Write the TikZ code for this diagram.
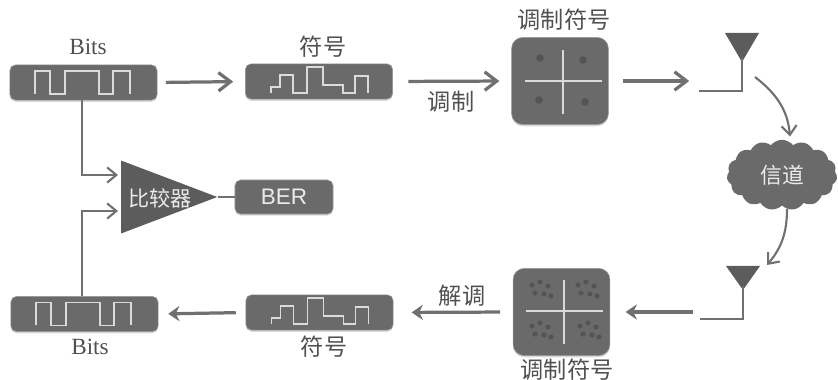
\documentclass[tikz,border=0pt]{standalone}
\usepackage{fontspec}
\setmainfont{Liberation Serif}
\newfontfamily\cjk{Noto Sans CJK SC}
\newfontfamily\lat{Liberation Sans}
\usepackage{xcolor}
\usetikzlibrary{arrows.meta,positioning,calc,shadows,shapes.geometric,shapes.symbols}
\definecolor{boxgray}{HTML}{6A6A6A}
\definecolor{trigray}{HTML}{5C5C5C}
\definecolor{lnkgray}{HTML}{707070}
\definecolor{txtgray}{HTML}{505050}
\definecolor{dotgray}{HTML}{545454}
\tikzset{
	sig/.style={fill=boxgray, draw=gray!80, rounded corners=4pt, inner sep=0pt,
		minimum width=3.68cm, minimum height=0.88cm,
		drop shadow={shadow xshift=0pt, shadow yshift=-1.2pt, opacity=0.3}},
	qam/.style={sig, rounded corners=8pt, minimum width=2.42cm, minimum height=2.18cm},
	lbl/.style={text=txtgray, inner sep=0pt, font=\fontsize{16.5}{18}\selectfont},
	cn/.style={lbl, font=\fontsize{16.5}{18}\selectfont\cjk},
	wht/.style={text=white!92!black, inner sep=0pt},
	lnk/.style={draw=lnkgray, line width=2.3pt, -{Straight Barb[length=3mm,width=4.6mm,line width=2.3pt]}},
	back/.style={draw=lnkgray, line width=2.3pt, -{Stealth[length=2.8mm,width=3.8mm]}},
	thn/.style={draw=lnkgray, line width=1.5pt, -{Straight Barb[length=2.3mm,width=3.8mm,line width=1.5pt]}},
	wav/.style={draw=gray!28, line width=1.2pt},
	bitwave/.pic={
		\draw[wav] (-48.5,11.5) -- (-48.5,-11.5) -- (-33.5,-11.5) -- (-33.5,11.5) -- (-18.5,11.5) -- (-18.5,-11.5)
			-- (15.5,-11.5) -- (15.5,11.5) -- (29.5,11.5) -- (29.5,-11.5) -- (46.5,-11.5) -- (46.5,11.5);
	},
	symwave/.pic={
		\draw[wav] (-48,11.5) -- (-48,5.5) -- (-39,5.5) -- (-39,-6.5) -- (-26,-6.5) -- (-26,11.5) -- (-12,11.5)
			-- (-12,-14.5) -- (4,-14.5) -- (4,3.5) -- (24,3.5) -- (24,11.5) -- (36,11.5) -- (36,-5.5) -- (49,-5.5) -- (49,11.5);
	},
	pics/antenna/.style={code={
		\fill[trigray] (-17,-#1) -- (17,-#1) -- (0,0) -- cycle;
		\draw[lnkgray, line width=1.7pt] (0,-4) -- (0,29) -- (-43,29);
	}},
	pics/axes/.style={code={
		\draw[gray!30, line width=1pt] (-38,0) -- (39,0);
		\draw[gray!30, line width=1pt] (0,-31) -- (0,33);
	}},
}

\begin{document}
\begin{tikzpicture}[x=0.025cm, y=-0.025cm, >=latex]
	\useasboundingbox (0,0) rectangle (838,380);
	% upper row
	\node[sig] at (83.50,82.50) (bitsa) {};
	\node[sig] at (319.00,81.50) (syma) {};
	\node[qam] at (560.00,81.00) (qama) {};
	\pic at (bitsa) {bitwave};
	\pic at (syma) {symwave};
	\pic at (563.00,81.00) {axes};
	\foreach \dotx/\doty in {540/58, 583/60, 539/100, 585/102}
		\fill[dotgray] (\dotx,\doty) circle (3.8);
	\node[lbl] at (88.00,47.00) (bitsatxt) {Bits};
	\node[cn] at (323.00,47.00) (symatxt) {符号};
	\node[cn] at (564.00,20.00) (qamatxt) {调制符号};
	\node[cn] at (451.00,102.00) (modtxt) {调制};
	\pic at (742.00,62.00) {antenna=29};
	\coordinate (anta) at (699.00,81.00);
	\coordinate (antb) at (755.00,77.00);
	% channel
	\node[cloud, cloud puffs=15, cloud puff arc=105, aspect=1.6, fill=boxgray, inner sep=0pt,
		minimum width=2.76cm, minimum height=1.76cm, wht, font=\fontsize{15.5}{17}\selectfont\cjk] at (782.00,175.00) (chan) {信道};
	% lower row
	\node[sig] at (84.50,314.00) (bitsb) {};
	\node[sig] at (319.50,312.50) (symb) {};
	\node[qam] at (561.50,312.00) (qamb) {};
	\pic at (bitsb) {bitwave};
	\pic at (symb) {symwave};
	\pic at (564.00,311.00) {axes};
	\foreach \clux/\cluy in {540/290, 586/290, 540/331, 588/331}
		\foreach \dotx/\doty in {-8/-5, 0/-8, 8/-4, -5/3, 4/4, 11/6}
			\fill[dotgray] (\clux+\dotx,\cluy+\doty) circle (2.6);
	\node[lbl] at (90.00,347.00) (bitsbtxt) {Bits};
	\node[cn] at (324.00,347.00) (symbtxt) {符号};
	\node[cn] at (567.00,370.00) (qambtxt) {调制符号};
	\node[cn] at (462.00,296.00) (demtxt) {解调};
	\pic at (743.00,290.00) {antenna=24};
	\coordinate (antc) at (701.00,312.00);
	\coordinate (antd) at (767.00,265.00);
	% comparator
	\node[isosceles triangle, isosceles triangle stretches, fill=trigray, inner sep=0pt,
		minimum width=1.82cm, minimum height=2.40cm, anchor=apex] at (218.00,197.00) (cmp) {};
	\node[wht, font=\fontsize{15}{17}\selectfont\cjk] at (160.00,198.00) (cmptxt) {比较器};
	\node[sig, minimum width=2.45cm, minimum height=0.85cm, wht, font=\fontsize{16}{18}\selectfont\lat] at (284.00,197.00) (ber) {BER};
	\coordinate (cmpa) at (118.00,175.00);
	\coordinate (cmpb) at (118.00,211.00);
	% links
	\draw[lnk, shorten <=6pt, shorten >=8.5pt] (bitsa.east) -- (syma.west);
	\draw[lnk, shorten <=11pt, shorten >=8.5pt] (syma.east) -- (qama.west);
	\draw[lnk, shorten <=10pt, shorten >=7pt] (qama.east) -- (anta);
	\draw[thn] (antb) to[out=-38, in=95] ($(chan.north)+(8,-3)$);
	\draw[thn] ($(chan.south)+(5,3)$) to[out=-90, in=50] (antd);
	\draw[back, shorten <=6pt, shorten >=11pt] (antc) -- (qamb.east);
	\draw[back, shorten <=9pt, shorten >=13pt] (qamb.west) -- (symb.east);
	\draw[back, shorten <=7pt, shorten >=7pt] (symb.west) -- (bitsb.east);
	\draw[draw=lnkgray, line width=1.3pt] (cmp.apex) -- (ber.west);
	\draw[thn] (bitsa.south -| 82,0) |- (cmpa);
	\draw[thn] (bitsb.north -| 82,0) |- (cmpb);
\end{tikzpicture}
\end{document}
